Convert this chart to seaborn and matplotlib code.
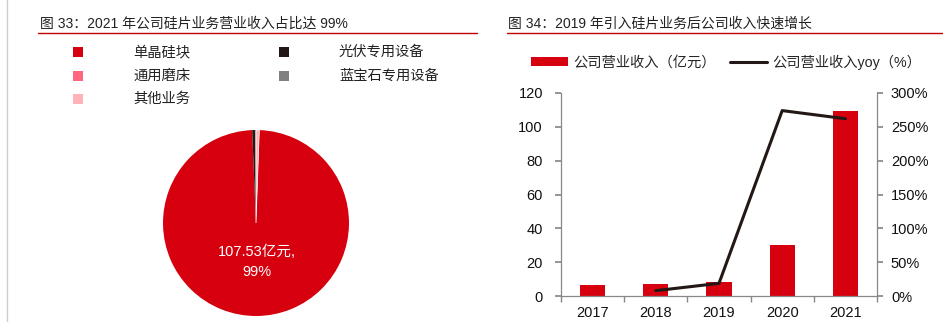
import matplotlib
matplotlib.use("Agg")
import matplotlib.pyplot as plt
from matplotlib.lines import Line2D
from matplotlib.patches import Patch
from matplotlib.ticker import FixedLocator, FuncFormatter
import seaborn as sns
import pandas as pd

sns.set_theme(style="white")
plt.rcParams["font.family"] = ["Liberation Sans", "Noto Sans CJK SC", "DejaVu Sans"]

# ---- 2021 revenue mix (亿元) ----
segments = ["单晶硅块", "光伏专用设备", "通用磨床", "蓝宝石专用设备", "其他业务"]
segment_values = [107.53, 0.62, 0.05, 0.05, 0.62]
segment_colors = ["#D7000F", "#231815", "#FF6680", "#808080", "#FFB3B8"]
main_label = "107.53亿元,\n99%"

# ---- revenue and growth ----
years = ["2017", "2018", "2019", "2020", "2021"]
revenue = [6.5, 7.1, 8.3, 30.4, 109.3]
yoy_years = ["2018", "2019", "2020", "2021"]
yoy_pct = [7.9, 18.7, 274.0, 262.0]

title_left = "图 33：2021 年公司硅片业务营业收入占比达 99%"
title_right = "图 34：2019 年引入硅片业务后公司收入快速增长"

W, H = 943, 322
fig = plt.figure(figsize=(W / 100, H / 100), dpi=100)

def fx(px):
    return px / W

def fy(py):
    return 1 - py / H

# page frame line and titles
fig.add_artist(Line2D([fx(7), fx(7)], [0, 1], color="#cccccc", lw=1.0))
fig.text(fx(40), fy(24), title_left, fontsize=10, color="#222222", va="center", ha="left")
fig.text(fx(508), fy(24), title_right, fontsize=10, color="#222222", va="center", ha="left")
fig.add_artist(Line2D([fx(38), fx(477)], [fy(32.5), fy(32.5)], color="#C00000", lw=1.0))
fig.add_artist(Line2D([fx(507), fx(943)], [fy(32.5), fy(32.5)], color="#C00000", lw=1.0))

# ---- pie ----
R = 93
cx, cy = 256, 223
ax_pie = fig.add_axes([fx(cx - R), 1 - (cy + R) / H, 2 * R / W, 2 * R / H])
total = sum(segment_values)
start = 90 - segment_values[-1] / total * 360
wedges, _ = ax_pie.pie(segment_values, colors=segment_colors, startangle=start,
                       counterclock=False, radius=1.0,
                       wedgeprops=dict(linewidth=0, edgecolor="white"))
# thin white outline on the light "其他业务" wedge
wedges[-1].set_edgecolor("white")
wedges[-1].set_linewidth(0.5)
ax_pie.set_xlim(-1, 1)
ax_pie.set_ylim(-1, 1)
ax_pie.set_aspect("equal")
ax_pie.axis("off")
ax_pie.text(0.01, -0.42, main_label, color="white", fontsize=10.5, ha="center", va="center",
            linespacing=1.55)

# legend for pie (two columns, manual grid)
leg_pos = [(78, 52), (284, 52), (78, 76), (284, 76), (78, 99)]
for (px, py), name, col in zip(leg_pos, segments, segment_colors):
    fig.add_artist(Line2D([fx(px)], [fy(py)], marker="s", markersize=7.5, color=col,
                          markeredgewidth=0, linestyle="none"))
    fig.text(fx(px + 55), fy(py), name, fontsize=10.3, color="#222222", va="center", ha="left")

# ---- bar + line chart ----
ax = fig.add_axes([fx(561), fy(296), fx(877 - 561), (296 - 93) / H])
df = pd.DataFrame({"year": years, "revenue": revenue})
sns.barplot(data=df, x="year", y="revenue", color="#D7000F", width=0.4, ax=ax,
            saturation=1, edgecolor="none")
ax.set_xlim(-0.5, len(years) - 0.5)
ax.set_ylim(0, 120)
ax.set_yticks(range(0, 121, 20))
ax.set_xlabel("")
ax.set_ylabel("")

ax2 = ax.twinx()
yoy_df = pd.DataFrame({"pos": [years.index(y) for y in yoy_years], "yoy": yoy_pct})
sns.lineplot(data=yoy_df, x="pos", y="yoy", color="#231815", lw=2.2, ax=ax2)
ax2.set_ylim(0, 300)
ax2.set_yticks(range(0, 301, 50))
ax2.yaxis.set_major_formatter(FuncFormatter(lambda v, _: f"{int(v)}%"))
ax2.set_xlim(-0.5, len(years) - 0.5)
ax2.set_ylabel("")

spine_col = "#888888"
for a in (ax, ax2):
    a.spines["top"].set_visible(False)
    for s in ["left", "right", "bottom"]:
        a.spines[s].set_color(spine_col)
        a.spines[s].set_linewidth(0.9)
ax.spines["right"].set_visible(False)
ax2.spines["left"].set_visible(False)
ax2.spines["bottom"].set_visible(False)

ax.tick_params(axis="y", which="major", direction="out", length=4, color=spine_col,
               labelsize=10.5, labelcolor="#111111", pad=9, left=True)
ax2.tick_params(axis="y", which="major", direction="out", length=4, color=spine_col,
                labelsize=10.5, labelcolor="#111111", pad=6, right=True)
ax.xaxis.set_minor_locator(FixedLocator([i - 0.5 for i in range(len(years) + 1)]))
ax.tick_params(axis="x", which="major", length=0, labelsize=10.5, labelcolor="#111111", pad=7)
ax.tick_params(axis="x", which="minor", direction="out", length=4, color=spine_col, bottom=True)

# legend for bar + line chart
handles = [Patch(facecolor="#D7000F", edgecolor="none"),
           Line2D([0], [0], color="#231815", lw=2.2)]
labels = ["公司营业收入（亿元）", "公司营业收入yoy（%）"]
fig.legend(handles, labels, loc="center left", bbox_to_anchor=(fx(531), fy(62)), ncol=2,
           frameon=False, fontsize=10.3, handlelength=2.6, handleheight=0.5, handletextpad=0.35,
           columnspacing=1.0, borderaxespad=0, borderpad=0)

fig.savefig("out.png", dpi=100)
